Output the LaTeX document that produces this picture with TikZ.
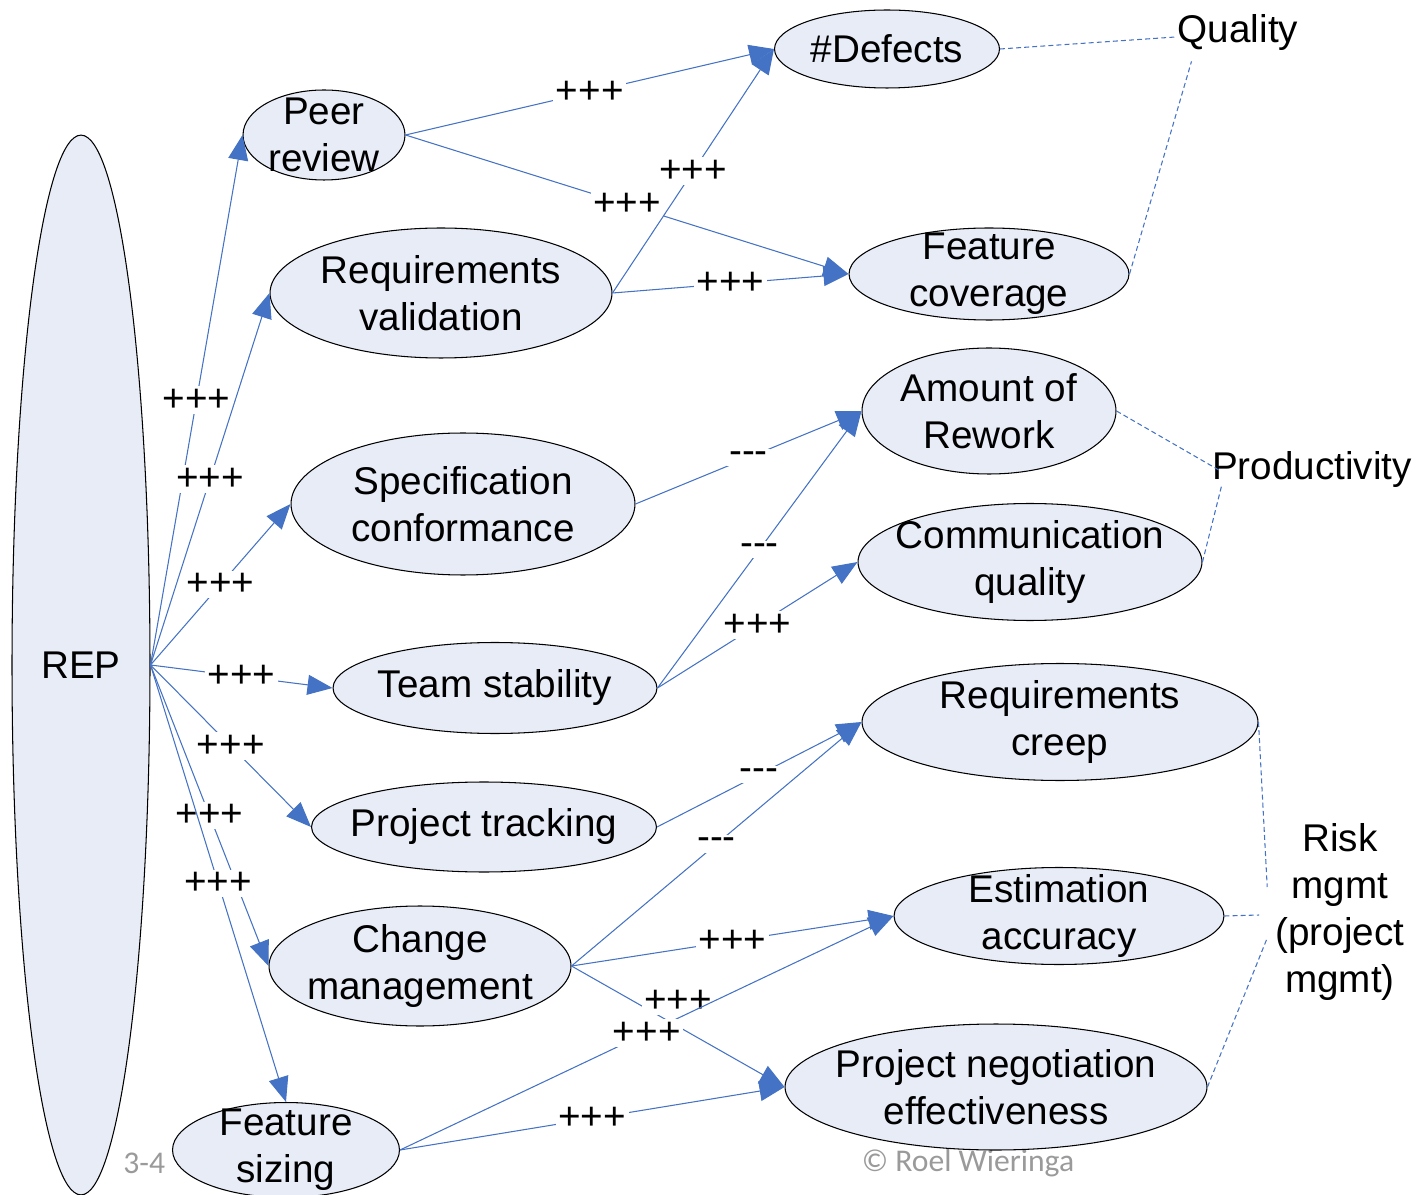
\documentclass[tikz,border=0pt]{standalone}
\usepackage{fontspec}
\setmainfont{Liberation Sans}[Ligatures=TeXOff]
\newfontfamily\slidefont{Carlito}
\usetikzlibrary{shapes.geometric,arrows.meta}
\definecolor{bubblefill}{HTML}{E7ECF6}
\definecolor{linkblue}{HTML}{4472C4}
\definecolor{notegray}{HTML}{9A9A9A}

\begin{document}
\begin{tikzpicture}[x=0.02cm, y=-0.02cm,
    bubble/.style 2 args={ellipse, draw=black, fill=bubblefill, line width=0.6pt,
                          inner sep=0pt, minimum width=#1, minimum height=#2},
    txt/.style={align=center, inner sep=0pt, font=\fontsize{22}{26.6}\selectfont},
    effect/.style={draw=linkblue, line width=0.6pt, -{Triangle[length=0.5cm,width=0.4cm]}},
    sign/.style={fill=white, inner sep=1.5pt, font=\fontsize{22}{26.6}\selectfont},
    group/.style={draw=linkblue, line width=0.6pt, dash pattern=on 2.8pt off 1.8pt}]
\useasboundingbox (0,0) rectangle (1416,1195);

% slide footer, partly hidden
\node[anchor=west, inner sep=0pt, text=notegray, font=\slidefont\fontsize{18}{22}\selectfont] (slideno) at (123,1163) {3-4};
\node[inner sep=0pt, text=notegray, font=\slidefont\fontsize{18}{22}\selectfont] (owner) at (968,1163) {\textcopyright{} Roel Wieringa};

% the ellipses
\node[bubble={2.76cm}{21.2cm}] (rep) at (81,665) {};
\node[bubble={3.24cm}{1.8cm}] (peer) at (324,135) {};
\node[bubble={4.5cm}{1.56cm}] (defects) at (887,49) {};
\node[bubble={6.84cm}{2.6cm}] (reqval) at (441,293) {};
\node[bubble={5.6cm}{1.84cm}] (featcov) at (989,274) {};
\node[bubble={5.08cm}{2.52cm}] (rework) at (989,411) {};
\node[bubble={6.88cm}{2.84cm}] (spec) at (463,504) {};
\node[bubble={6.88cm}{2.34cm}] (comm) at (1030,562) {};
\node[bubble={6.48cm}{1.82cm}] (team) at (495,688) {};
\node[bubble={7.92cm}{2.34cm}] (creep) at (1060,722) {};
\node[bubble={6.9cm}{1.8cm}] (track) at (484,827) {};
\node[bubble={6.04cm}{2.4cm}] (change) at (420,966) {};
\node[bubble={6.6cm}{1.94cm}] (estim) at (1059,916) {};
\node[bubble={8.44cm}{2.52cm}] (negot) at (996,1087) {};
\node[bubble={4.54cm}{1.9cm}] (fsize) at (286,1150) {};

% their texts
\node[txt] (rep-t) at (rep) {REP};
\node[txt] (peer-t) at (peer) {Peer\\review};
\node[txt] (defects-t) at (defects) {\#Defects};
\node[txt] (reqval-t) at (reqval) {Requirements\\validation};
\node[txt] (featcov-t) at (featcov) {Feature\\coverage};
\node[txt] (rework-t) at (rework) {Amount of\\Rework};
\node[txt] (spec-t) at (spec) {Specification\\conformance};
\node[txt] (comm-t) at (comm) {Communication\\quality};
\node[txt] (team-t) at (team) {Team stability};
\node[txt] (creep-t) at (creep) {Requirements\\creep};
\node[txt] (track-t) at (track) {Project tracking};
\node[txt] (change-t) at (change) {Change\\management};
\node[txt] (estim-t) at (estim) {Estimation\\accuracy};
\node[txt] (negot-t) at (negot) {Project negotiation\\effectiveness};
\node[txt] (fsize-t) at (fsize) {Feature\\sizing};

% goals
\node[txt] (quality) at (1238,33) {Quality};
\node[txt] (prod) at (1312,470) {Productivity};
\node[txt] (risk) at (1340,912) {Risk\\mgmt\\(project\\mgmt)};

\draw[group] (defects.east) -- ([shift={(-2,4)}]quality.west);
\draw[group] (featcov.east) -- ([shift={(14,10)}]quality.south west);
\draw[group] (rework.east) -- ([shift={(7,0)}]prod.west);
\draw[group] (comm.east) -- ([shift={(10,15)}]prod.west);
\draw[group] (creep.east) -- ([shift={(-8,-25)}]risk.west);
\draw[group] (estim.east) -- ([shift={(-16,3)}]risk.west);
\draw[group] (negot.east) -- ([shift={(-8,26)}]risk.west);

% effects of REP
\draw[effect] (rep.east) -- node[sign] {+++} (peer.west);
\draw[effect] (rep.east) -- node[sign] {+++} (reqval.west);
\draw[effect] (rep.east) -- node[sign] {+++} (spec.west);
\draw[effect] (rep.east) -- node[sign] {+++} (team.west);
\draw[effect] (rep.east) -- node[sign] {+++} (track.west);
\draw[effect] (rep.east) -- node[sign] {+++} (change.west);
\draw[effect] (rep.east) -- node[sign] {+++} (fsize.north);

% effects on the goals
\draw[effect] (peer.east) -- node[sign] {+++} (defects.west);
\draw[effect] (peer.east) -- node[sign] {+++} (featcov.west);
\draw[effect] (reqval.east) -- node[sign] {+++} (defects.west);
\draw[effect] (reqval.east) -- node[sign] {+++} (featcov.west);
\draw[effect] (spec.east) -- node[sign] {---} (rework.west);
\draw[effect] (team.east) -- node[sign] {---} (rework.west);
\draw[effect] (team.east) -- node[sign] {+++} (comm.west);
\draw[effect] (track.east) -- node[sign] {---} (creep.west);
\draw[effect] (change.east) -- node[sign] {---} (creep.west);
\draw[effect] (change.east) -- node[sign] {+++} (estim.west);
\draw[effect] (change.east) -- node[sign, yshift=0.5cm] {+++} (negot.west);
\draw[effect] (fsize.east) -- node[sign] {+++} (estim.west);
\draw[effect] (fsize.east) -- node[sign] {+++} (negot.west);
\end{tikzpicture}
\end{document}
